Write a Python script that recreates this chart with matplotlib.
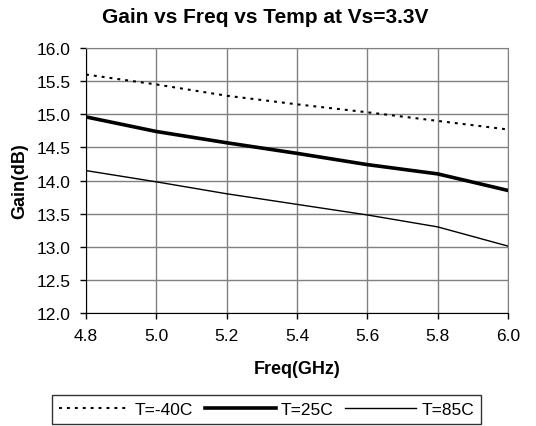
import matplotlib.pyplot as plt

plt.rcParams['font.family'] = ['Liberation Sans', 'DejaVu Sans']

# data
freq = [4.8, 5.0, 5.2, 5.4, 5.6, 5.8, 6.0]
gain_m40 = [15.60, 15.45, 15.28, 15.15, 15.03, 14.90, 14.77]
gain_25 = [14.96, 14.74, 14.57, 14.41, 14.24, 14.10, 13.85]
gain_85 = [14.15, 13.98, 13.80, 13.64, 13.48, 13.30, 13.01]
labels = ['T=-40C', 'T=25C', 'T=85C']

x_ticks = [4.8, 5.0, 5.2, 5.4, 5.6, 5.8, 6.0]
y_ticks = [12.0, 12.5, 13.0, 13.5, 14.0, 14.5, 15.0, 15.5, 16.0]

fig = plt.figure(figsize=(5.36, 4.27), dpi=100)
ax = fig.add_axes([0.1604, 0.2646, 0.7874, 0.6206])

ax.plot(freq, gain_m40, color='black', lw=1.5, linestyle=(0, (1.4, 2.4)), label=labels[0])
ax.plot(freq, gain_25, color='black', lw=2.6, label=labels[1])
ax.plot(freq, gain_85, color='black', lw=1.0, label=labels[2])

ax.set_xlim(4.8, 6.0)
ax.set_ylim(12.0, 16.0)
ax.set_xticks(x_ticks)
ax.set_yticks(y_ticks)
ax.set_xticklabels([f'{v:.1f}' for v in x_ticks], fontsize=12.5)
ax.set_yticklabels([f'{v:.1f}' for v in y_ticks], fontsize=12.5)
ax.grid(True, color='#808080', lw=1.0)
ax.set_axisbelow(True)
ax.tick_params(direction='out', length=4, width=1, color='black', pad=7)

for s in ['top', 'right']:
    ax.spines[s].set_color('#808080')
for s in ['left', 'bottom']:
    ax.spines[s].set_color('black')

fig.text(0.495, 0.958, 'Gain vs Freq vs Temp at Vs=3.3V', fontsize=15, fontweight='bold',
         ha='center', va='center')
ax.set_xlabel('Freq(GHz)', fontsize=13, fontweight='bold', labelpad=12)
ax.set_ylabel('Gain(dB)', fontsize=13, fontweight='bold', labelpad=6)

leg = fig.legend(loc='upper center', bbox_to_anchor=(0.497, 0.072), ncol=3,
                 fontsize=12.5, frameon=True, fancybox=False, edgecolor='black',
                 handlelength=4.1, handletextpad=0.3, columnspacing=0.65,
                 borderpad=0.4, borderaxespad=0)
leg.get_frame().set_linewidth(1.0)

fig.savefig('out.png', dpi=100)
